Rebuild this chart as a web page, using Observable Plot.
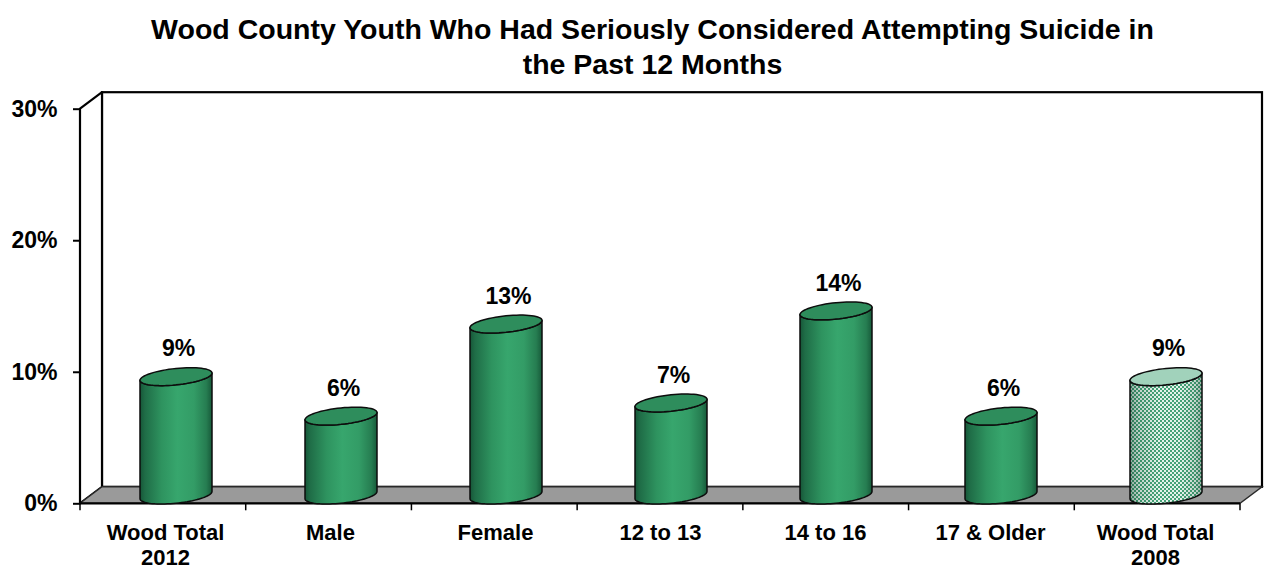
<!DOCTYPE html>
<html>
<head>
<meta charset="utf-8">
<script src="https://cdn.jsdelivr.net/npm/d3@7"></script>
<script src="https://cdn.jsdelivr.net/npm/@observablehq/plot@0.6"></script>
<style>
  html, body { margin: 0; padding: 0; background: #fff; }
  #chart svg { display: block; }
</style>
</head>
<body>
<div id="chart"></div>
<script>
// ---- data -------------------------------------------------------------
const categories = ["Wood Total 2012", "Male", "Female", "12 to 13", "14 to 16", "17 & Older", "Wood Total 2008"];
const tickLabels = ["Wood Total\n2012", "Male", "Female", "12 to 13", "14 to 16", "17 & Older", "Wood Total\n2008"];
const percents = [9, 6, 13, 7, 14, 6, 9];
const surveyYears = [2012, 2012, 2012, 2012, 2012, 2012, 2008];
const yTicks = [0, 10, 20, 30];
const titleLines = [
  "Wood County Youth Who Had Seriously Considered Attempting Suicide in",
  "the Past 12 Months"
];

const rows = categories.map((category, i) => ({category, percent: percents[i], year: surveyYears[i]}));

// ---- layout -----------------------------------------------------------
const W = 1264, H = 569;
const M = {top: 108.7, right: 24, bottom: 65.7, left: 80};
const DEPTH = [22, -16.5];          // offset of the back wall from the front plane
const FONT = "'Liberation Sans', Arial, Helvetica, sans-serif";

// 3-D box: back wall, left side wall, floor and category separators.
function chartBox(index, scales, values, dims) {
  const {width, height, marginTop, marginRight, marginBottom, marginLeft} = dims;
  const x0 = marginLeft, x1 = width - marginRight;
  const yBot = height - marginBottom, yTop = marginTop;
  const [dx, dy] = DEPTH;
  const g = d3.create("svg:g");

  const defs = g.append("defs");
  const body = defs.append("linearGradient").attr("id", "cyl-body")
    .attr("x1", 0).attr("x2", 1).attr("y1", 0).attr("y2", 0);
  [[0, "#165638"], [0.07, "#1f6d47"], [0.3, "#2e935f"], [0.52, "#37a66d"],
   [0.75, "#339c66"], [0.92, "#267d51"], [1, "#175a3a"]]
    .forEach(([o, c]) => body.append("stop").attr("offset", o).attr("stop-color", c));
  const shade = defs.append("linearGradient").attr("id", "cyl-shade")
    .attr("x1", 0).attr("x2", 1).attr("y1", 0).attr("y2", 0);
  [[0, 0.4], [0.12, 0.18], [0.4, 0], [0.7, 0], [0.9, 0.15], [1, 0.35]]
    .forEach(([o, a]) => shade.append("stop").attr("offset", o).attr("stop-color", "#0b3322").attr("stop-opacity", a));
  const check = defs.append("pattern").attr("id", "cyl-check")
    .attr("patternUnits", "userSpaceOnUse").attr("width", 4).attr("height", 4);
  check.append("rect").attr("width", 4).attr("height", 4).attr("fill", "#e4f3eb");
  check.append("rect").attr("width", 2).attr("height", 2).attr("fill", "#45a277");
  check.append("rect").attr("x", 2).attr("y", 2).attr("width", 2).attr("height", 2).attr("fill", "#45a277");

  // back wall
  g.append("rect")
    .attr("x", x0 + dx).attr("y", yTop + dy)
    .attr("width", x1 - x0).attr("height", yBot - yTop)
    .attr("fill", "#fff").attr("stroke", "#000").attr("stroke-width", 2.2);
  // left side wall (its front edge is the value axis)
  g.append("path")
    .attr("d", `M${x0},${yTop}L${x0 + dx},${yTop + dy}L${x0 + dx},${yBot + dy}L${x0},${yBot}Z`)
    .attr("fill", "#fff").attr("stroke", "#000").attr("stroke-width", 2.2).attr("stroke-linejoin", "round");
  // floor
  g.append("path")
    .attr("d", `M${x0},${yBot}L${x0 + dx},${yBot + dy}L${x1 + dx},${yBot + dy}L${x1},${yBot}Z`)
    .attr("fill", "#9a9a9a").attr("stroke", "#2a2a2a").attr("stroke-width", 1.3);
  g.append("line")
    .attr("x1", x0).attr("x2", x1).attr("y1", yBot).attr("y2", yBot)
    .attr("stroke", "#000").attr("stroke-width", 2.2);
  // separators between categories
  const n = scales.x.domain().length;
  for (let i = 0; i <= n; ++i) {
    const bx = x0 + i * (x1 - x0) / n;
    g.append("line")
      .attr("x1", bx).attr("x2", bx).attr("y1", yBot).attr("y2", yBot + 7)
      .attr("stroke", "#000").attr("stroke-width", 1.5);
  }
  return g.node();
}

// Cylinders drawn from the bar's scaled band position and y1/y2 extent.
function cylinderRender(index, scales, values) {
  const {x: X, y1: Y1, y2: Y2} = values;
  const bw = scales.x.bandwidth();
  const a = bw / 2;          // horizontal radius
  const b = 8.2;             // vertical radius of the elliptical caps
  const k = 0.101;           // slant of the caps
  const [dx, dy] = DEPTH;
  const g = d3.create("svg:g").attr("aria-label", "cylinder");
  const pt = (cx, cy, s) => [cx + a * Math.cos(s), cy + b * Math.sin(s) - k * a * Math.cos(s)];
  const arc = (cx, cy, s0, s1, n = 40) => d3.range(n + 1).map(j => pt(cx, cy, s0 + (s1 - s0) * j / n));
  const toPath = pts => pts.map((p, j) => (j ? "L" : "M") + p[0].toFixed(2) + "," + p[1].toFixed(2)).join("");

  for (const i of index) {
    const d = rows[i];
    const cx = X[i] + a + dx / 2;
    const yT = Math.min(Y1[i], Y2[i]) + dy / 2;
    const yB = Math.max(Y1[i], Y2[i]) + dy / 2;
    const older = d.year !== 2012;

    // body: left side, front half of the base, right side, front half of the top
    const bodyPts = [
      ...arc(cx, yB, Math.PI, 0),
      ...arc(cx, yT, 0, Math.PI)
    ];
    const bodyD = toPath(bodyPts) + "Z";
    g.append("path").attr("d", bodyD)
      .attr("fill", older ? "url(#cyl-check)" : "url(#cyl-body)");
    if (older) g.append("path").attr("d", bodyD).attr("fill", "url(#cyl-shade)");
    g.append("path").attr("d", bodyD)
      .attr("fill", "none").attr("stroke", "#0d0d0d").attr("stroke-width", 1.5).attr("stroke-linejoin", "round");

    // top cap
    g.append("path").attr("d", toPath(arc(cx, yT, 0, 2 * Math.PI, 64)) + "Z")
      .attr("fill", older ? "#a1d2bb" : "#2e8d5c")
      .attr("stroke", "#0d0d0d").attr("stroke-width", 1.5);
  }
  return g.node();
}

const chart = Plot.plot({
  width: W,
  height: H,
  marginTop: M.top,
  marginRight: M.right,
  marginBottom: M.bottom,
  marginLeft: M.left,
  style: {fontFamily: FONT, color: "#000", background: "#fff"},
  x: {domain: categories, type: "band", paddingInner: 0.566, paddingOuter: 0.283, label: null},
  y: {domain: [0, 30], label: null},
  marks: [
    chartBox,
    Plot.barY(rows, {x: "category", y: "percent", render: cylinderRender}),
    Plot.text(rows, {
      x: "category", y: "percent", text: d => d.percent + "%",
      dx: 13, dy: -36.4, fontSize: 23, fontWeight: "bold", fill: "#000"
    }),
    Plot.axisY(yTicks, {
      tickSize: 7, tickPadding: 16, tickFormat: d => d + "%",
      fontSize: 23, fontWeight: "bold", stroke: "#000", strokeWidth: 2, fill: "#000", label: null
    }),
    Plot.axisX({
      tickSize: 0, tickPadding: 18,
      tickFormat: d => tickLabels[categories.indexOf(d)],
      fontSize: 22, fontWeight: "bold", lineHeight: 1.15, fill: "#000", label: null
    }),
    Plot.text([titleLines.join("\n")], {
      frameAnchor: "top", lineAnchor: "top", text: d => d,
      dx: -8, dy: -95, fontSize: 28.5, fontWeight: "bold", lineHeight: 1.228, fill: "#000"
    })
  ]
});

document.getElementById("chart").appendChild(chart);
</script>
</body>
</html>
